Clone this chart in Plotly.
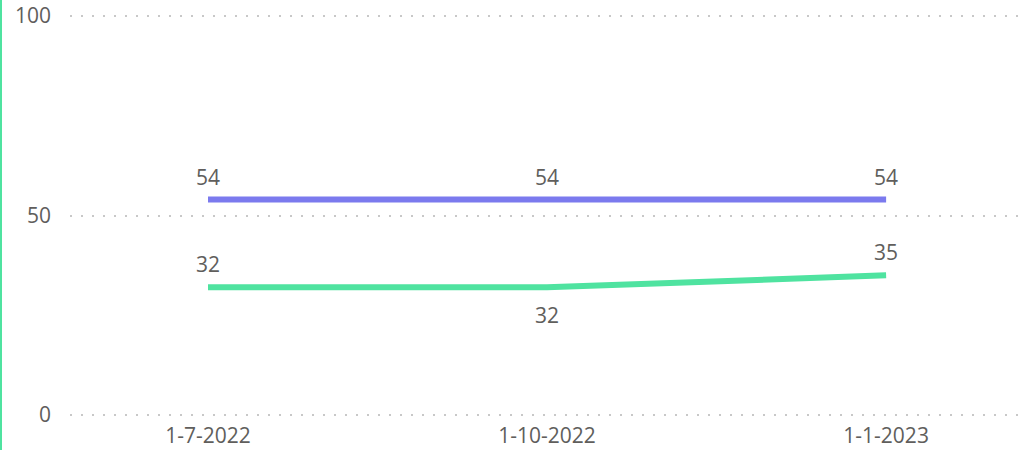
import plotly.graph_objects as go

# Quarterly dates and the two series shown
dates = ["1-7-2022", "1-10-2022", "1-1-2023"]
series_a = [54, 54, 54]
series_b = [32, 32, 35]
label_above_b = [True, False, True]
y_ticks = [0, 50, 100]

PURPLE = "#7B7AEE"
GREEN = "#4FE3A0"
TEXT = "#605E5C"
FONT = "Open Sans"
FS = 21

fig = go.Figure()
fig.add_trace(go.Scatter(
    x=dates, y=series_a, mode="lines",
    line=dict(color=PURPLE, width=6),
    showlegend=False, hoverinfo="skip",
))
fig.add_trace(go.Scatter(
    x=dates, y=series_b, mode="lines",
    line=dict(color=GREEN, width=6),
    showlegend=False, hoverinfo="skip",
))

# Data labels: above the line, or below it where flagged
annotations = []
for d, v in zip(dates, series_a):
    annotations.append(dict(x=d, y=v, text=str(v), showarrow=False,
                            yanchor="middle", yshift=23))
for d, v, above in zip(dates, series_b, label_above_b):
    annotations.append(dict(x=d, y=v, text=str(v), showarrow=False,
                            yanchor="middle", yshift=23 if above else -28))
for a in annotations:
    a["font"] = dict(family=FONT, size=FS, color=TEXT)

ML, MR, MT, MB = 70, 0, 12, 31
W, H = 1018, 450
pw = W - ML - MR
ph = H - MT - MB

fig.update_layout(
    width=W, height=H,
    margin=dict(l=ML, r=MR, t=MT, b=MB),
    paper_bgcolor="white", plot_bgcolor="white",
    font=dict(family=FONT, size=FS, color=TEXT),
    annotations=annotations,
    xaxis=dict(
        type="category", range=[-0.407, 2.389],
        showgrid=False, zeroline=False, showline=False, ticks="",
        ticklabelstandoff=2, automargin=False,
        tickfont=dict(family=FONT, size=FS, color=TEXT),
    ),
    yaxis=dict(
        range=[-1, 101], tickvals=y_ticks,
        showgrid=True, gridcolor="#C8C8C8", gridwidth=2, griddash="2px,9px",
        zeroline=False, showline=False, ticks="",
        ticklabelstandoff=18, automargin=False,
        tickfont=dict(family=FONT, size=FS, color=TEXT),
    ),
    shapes=[dict(
        type="line", xref="paper", yref="paper",
        x0=-(ML - 1) / pw, x1=-(ML - 1) / pw,
        y0=-MB / ph, y1=1 + MT / ph,
        line=dict(color=GREEN, width=2),
    )],
)

fig.write_html("out.html")
